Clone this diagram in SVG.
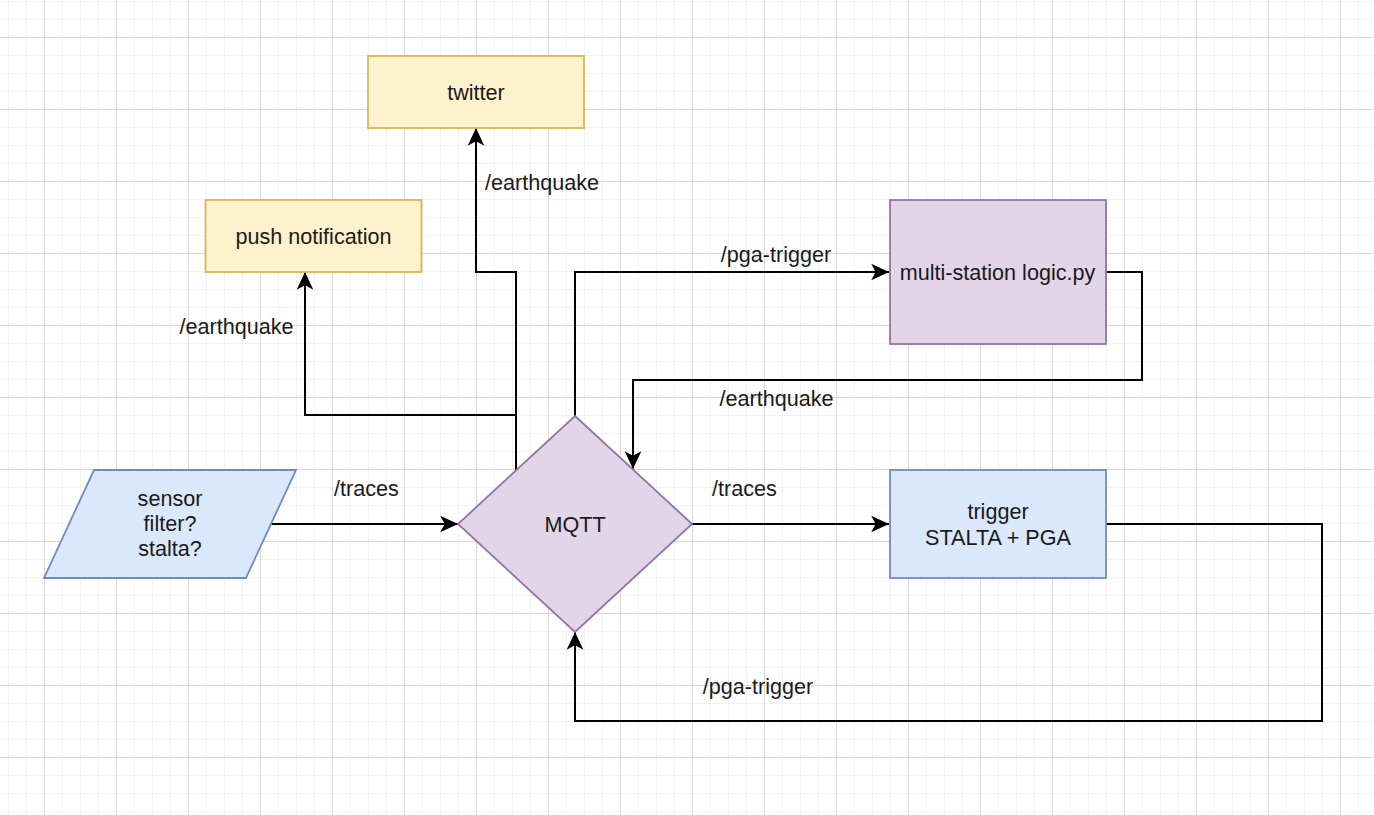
<svg xmlns="http://www.w3.org/2000/svg" width="1374" height="815" viewBox="0 0 1374 815">
  <defs>
    <pattern id="grid" patternUnits="userSpaceOnUse" x="44" y="37" width="72" height="72">
      <rect x="18" y="0" width="1" height="72" fill="#f2f2f2"/>
      <rect x="36" y="0" width="1" height="72" fill="#f2f2f2"/>
      <rect x="54" y="0" width="1" height="72" fill="#f2f2f2"/>
      <rect x="0" y="18" width="72" height="1" fill="#f2f2f2"/>
      <rect x="0" y="36" width="72" height="1" fill="#f2f2f2"/>
      <rect x="0" y="54" width="72" height="1" fill="#f2f2f2"/>
      <rect x="0" y="0" width="1" height="72" fill="#d9d9d9"/>
      <rect x="0" y="0" width="72" height="1" fill="#d9d9d9"/>
    </pattern>
    <marker id="arrow" markerUnits="userSpaceOnUse" markerWidth="20" markerHeight="20" viewBox="-17 -9 18 18" refX="0" refY="0" orient="auto">
      <path d="M0,0 L-16,-7.5 L-12,0 L-16,7.5 Z" fill="#000"/>
    </marker>
  </defs>
  <style>
    .yellow { fill: #fff2cc; stroke: #d6b656; stroke-width: 1.8; }
    .purple { fill: #e1d5e7; stroke: #9673a6; stroke-width: 1.8; }
    .blue { fill: #dae8fc; stroke: #6c8ebf; stroke-width: 1.8; }
    text { font-family: "Liberation Sans", Arial, sans-serif; font-size: 21.6px; fill: #1a1a1a; text-anchor: middle; }
    .edge { fill: none; stroke: #000; stroke-width: 2; marker-end: url(#arrow); }
    .seg { fill: none; stroke: #000; stroke-width: 2; }
  </style>
  <rect x="0" y="0" width="1374" height="815" fill="#ffffff"/>
  <rect x="0" y="0" width="1374" height="815" fill="url(#grid)"/>

  <g id="connectors">
    <path class="edge" d="M271,524 H458"/>
    <path class="edge" d="M692,524 H889"/>
    <path class="edge" d="M1106,524 H1322 V721 H575 V632"/>
    <path class="edge" d="M575,416 V272 H889"/>
    <path class="edge" d="M1106,272 H1142 V380 H633 V469"/>
    <path class="edge" d="M516,470 V272 H476 V128"/>
    <path class="edge" d="M516,470 V415 H305 V272"/>
    <text x="366.5" y="496">/traces</text>
    <text x="744.5" y="496">/traces</text>
    <text x="776" y="262">/pga-trigger</text>
    <text x="776.5" y="406">/earthquake</text>
    <text x="758" y="694">/pga-trigger</text>
    <text x="542" y="190">/earthquake</text>
    <text x="236.5" y="334">/earthquake</text>
  </g>

  <g id="twitter">
    <rect class="yellow" x="368" y="56" width="216" height="72"/>
    <text x="476" y="99.5">twitter</text>
  </g>
  <g id="push-notification">
    <rect class="yellow" x="205.5" y="200" width="216" height="72"/>
    <text x="313.5" y="243.5">push notification</text>
  </g>
  <g id="multi-station">
    <rect class="purple" x="890" y="200" width="216" height="144"/>
    <text x="997.5" y="279.5">multi-station logic.py</text>
  </g>
  <g id="trigger">
    <rect class="blue" x="890" y="470" width="216" height="108"/>
    <text x="998" y="519">trigger</text>
    <text x="998" y="545">STALTA + PGA</text>
  </g>
  <g id="sensor">
    <polygon class="blue" points="94,470 296,470 246,578 44,578"/>
    <text x="170" y="506">sensor</text>
    <text x="170" y="531">filter?</text>
    <text x="170" y="556">stalta?</text>
  </g>
  <g id="mqtt">
    <polygon class="purple" points="575,416 692,524 575,632 458,524"/>
    <text x="575" y="531.5">MQTT</text>
  </g>
</svg>
